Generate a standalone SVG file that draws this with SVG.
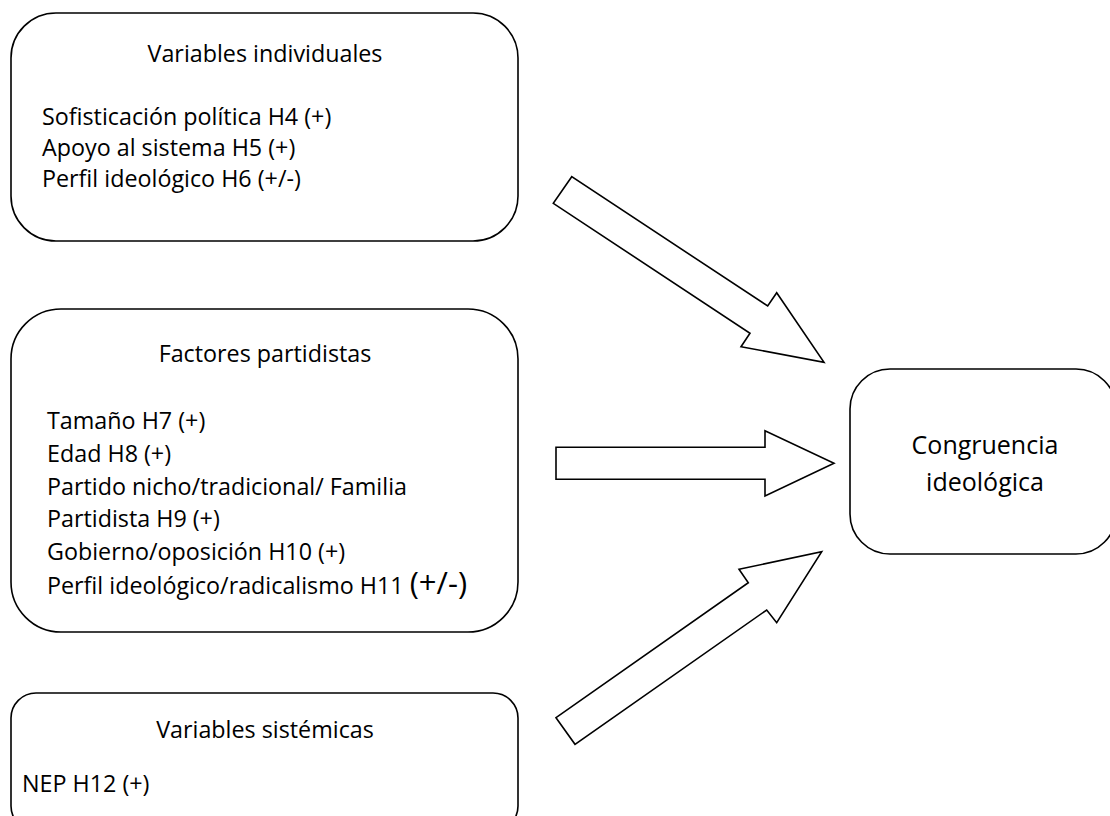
<svg xmlns="http://www.w3.org/2000/svg" width="1110" height="816" viewBox="0 0 1110 816">
<style>
.box{fill:#fff;stroke:#000;stroke-width:1.6}
.arr{fill:#fff;stroke:#000;stroke-width:1.6;stroke-linejoin:miter}
text{font-family:"Open Sans","Liberation Sans",sans-serif;font-size:23.3px;fill:#000}
.c{text-anchor:middle}
.big{font-size:25px}
</style>
<rect width="1110" height="816" fill="#fff"/>
<g id="n1">
<rect class="box" x="11" y="13" width="507" height="228" rx="45" ry="45"/>
<text class="c" x="265" y="62">Variables individuales</text>
<text x="42" y="125">Sofisticación política H4 (+)</text>
<text x="42" y="156">Apoyo al sistema H5 (+)</text>
<text x="42" y="187">Perfil ideológico H6 (+/-)</text>
</g>
<g id="n2">
<rect class="box" x="11" y="309" width="507" height="323" rx="50" ry="50"/>
<text class="c" x="265" y="362">Factores partidistas</text>
<text x="47" y="429">Tamaño H7 (+)</text>
<text x="47" y="462">Edad H8 (+)</text>
<text x="47" y="495">Partido nicho/tradicional/ Familia</text>
<text x="47" y="527">Partidista H9 (+)</text>
<text x="47" y="560">Gobierno/oposición H10 (+)</text>
<text x="47" y="594">Perfil ideológico/radicalismo H11 <tspan font-size="31">(+/-)</tspan></text>
</g>
<g id="n3">
<rect class="box" x="11" y="693" width="507" height="138" rx="25" ry="25"/>
<text class="c" x="265" y="738">Variables sistémicas</text>
<text x="22" y="792">NEP H12 (+)</text>
</g>
<g id="n4">
<rect class="box" x="850" y="369" width="266" height="185" rx="40" ry="40"/>
<text class="c big" x="985" y="454">Congruencia</text>
<text class="c big" x="985" y="491">ideológica</text>
</g>
<g id="connectors">
<polygon class="arr" points="571.7,176.7 553.3,203.3 750,333.3 741,346.7 824,362.3 776.7,292.7 767.7,306"/>
<polygon class="arr" points="556,447.3 765,447.3 765,430.7 834,463.3 765,496 765,479.3 556,479.3"/>
<polygon class="arr" points="556,717.7 575,744.3 766.7,610 776.7,622.7 821.7,551.7 739,569.3 748.3,582.7"/>
</g>
</svg>
